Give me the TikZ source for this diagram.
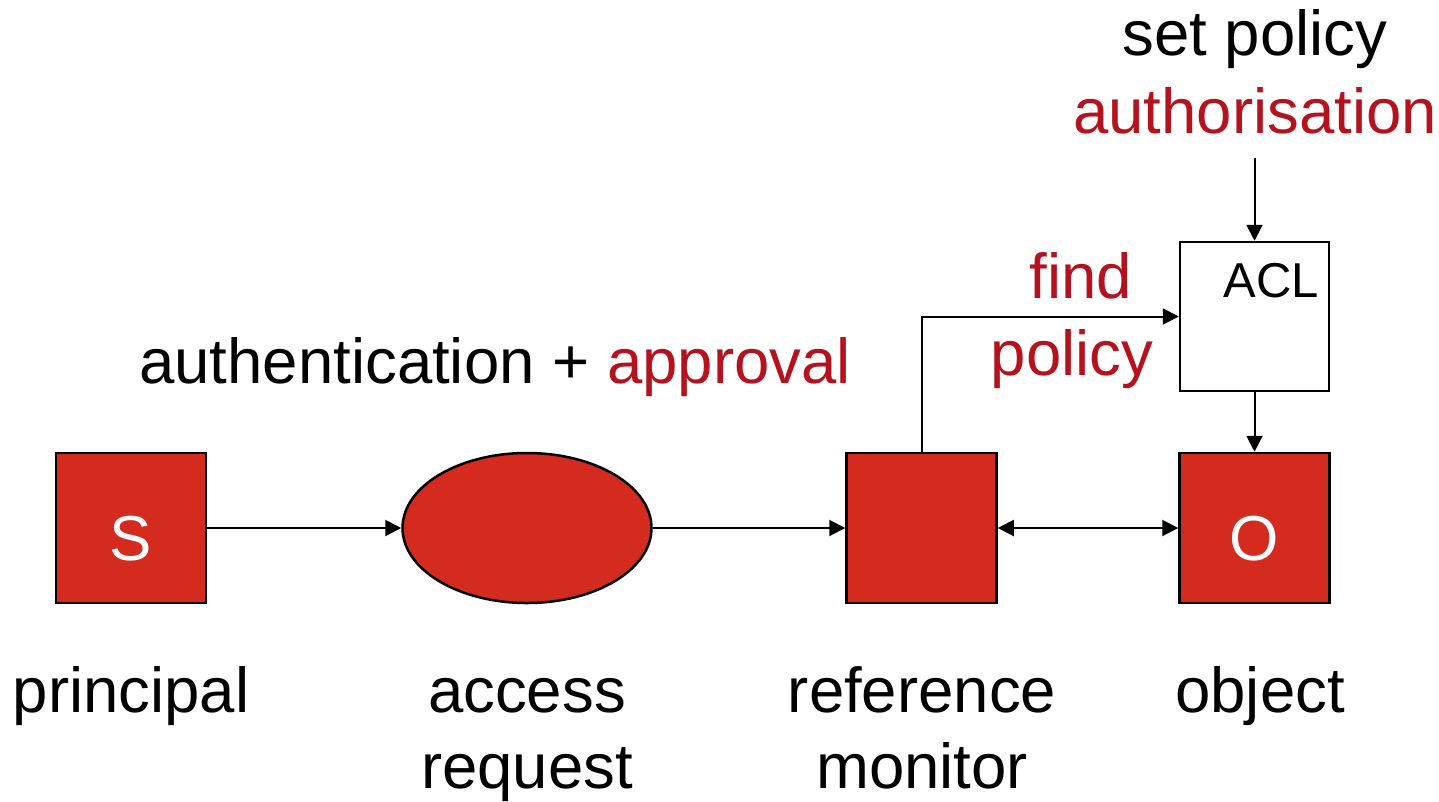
\documentclass[tikz,border=0pt]{standalone}
\usepackage{fontspec}
\setmainfont{Liberation Sans}
\usetikzlibrary{arrows.meta,shapes.geometric}
\definecolor{boxred}{RGB}{212,43,30}
\definecolor{textred}{RGB}{181,18,30}
\tikzset{
  redbox/.style={draw=black,line width=2.5pt,fill=boxred,minimum width=150pt,minimum height=150pt,inner sep=0pt,text=white,font=\fontsize{63.5}{70}\selectfont},
  aclbox/.style={draw=black,line width=2.5pt,fill=white,minimum width=149pt,minimum height=149pt,inner sep=0pt},
  reqell/.style={ellipse,draw=black,line width=2.5pt,fill=boxred,minimum width=249pt,minimum height=150pt,inner sep=0pt},
  bigtext/.style={font=\fontsize{63.5}{70}\selectfont,inner sep=0pt,anchor=base},
  redtext/.style={bigtext,text=textred},
  conn/.style={line width=2pt,-{Triangle[length=16pt,width=16pt]}},
  dconn/.style={line width=2pt,{Triangle[length=16pt,width=16pt]}-{Triangle[length=16pt,width=16pt]}}
}
\begin{document}
\begin{tikzpicture}[x=1pt,y=-1pt]
\useasboundingbox (0,0) rectangle (1439,801);
% boxes
\node[redbox] (s) at (131,528) {\smash{\raisebox{-32pt}{S}}};
\node[reqell] (req) at (527,528) {};
\node[redbox] (rm) at (921.5,528) {};
\node[redbox] (obj) at (1254.5,528) {\smash{\raisebox{-32pt}{O}}};
\node[aclbox] (acl) at (1254.5,316.5) {};
\node[font=\fontsize{49}{55}\selectfont,inner sep=0pt,anchor=base] (acltext) at (1271,297) {ACL};
% texts
\node[bigtext] (setpol) at (1255,55) {set policy};
\node[redtext] (authz) at (1255,133) {authorisation};
\node[redtext] (find) at (1081,298) {find};
\node[redtext] (policy) at (1072,375) {policy};
\node[bigtext] (authn) at (495,383) {authentication + {\color{textred}approval}};
\node[bigtext] (lprin) at (131,712) {principal};
\node[bigtext] (lacc) at (527,712) {access};
\node[bigtext] (lreq) at (527,788) {request};
\node[bigtext] (lref) at (922,712) {reference};
\node[bigtext] (lmon) at (922,788) {monitor};
\node[bigtext] (lobj) at (1260,712) {object};
% connectors
\coordinate (topin) at (1254.5,158);
\draw[conn] (s.east) -- (req.west);
\draw[conn] (req.east) -- (rm.west);
\draw[dconn] (rm.east) -- (obj.west);
\draw[conn] (rm.north) |- (acl.west);
\draw[conn] (acl.south) -- (obj.north);
\draw[conn] (topin) -- (acl.north);
\end{tikzpicture}
\end{document}
